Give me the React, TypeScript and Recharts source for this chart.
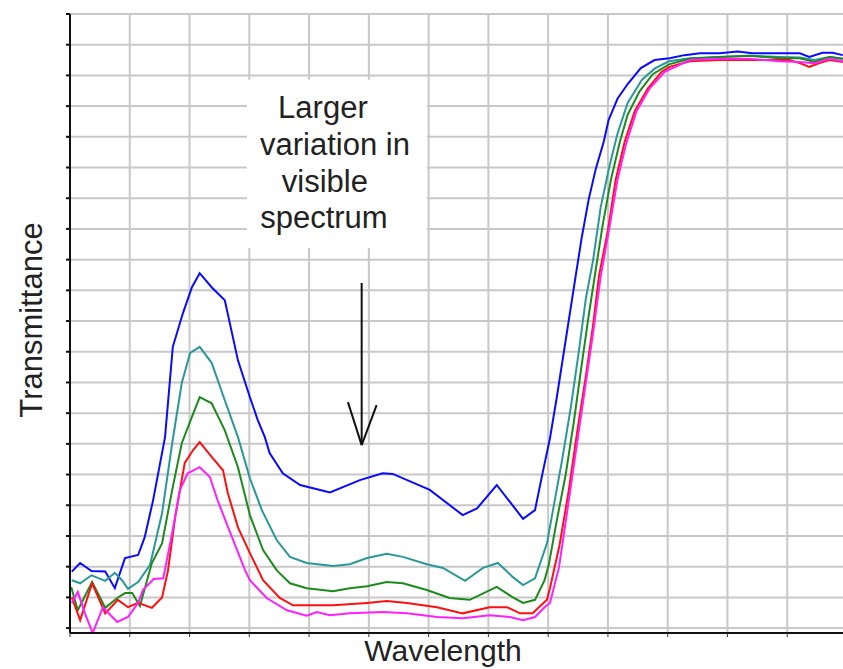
import React from 'react';
import {
  LineChart,
  Line,
  XAxis,
  YAxis,
  CartesianGrid,
  ReferenceArea,
  ReferenceLine,
} from 'recharts';

// [wavelength index, transmittance]
const blueCurve: [number, number][] = [
  [0.3, 9.2], [1.7, 10.6], [3.6, 9.3], [5.9, 9.2], [7.5, 6.5], [9.2, 11.4], [11.4, 11.9],
  [12.5, 14.8], [13.9, 20.8], [15.9, 31.1], [17.2, 45.8], [18.9, 51.3], [20.4, 55.5],
  [21.7, 57.8], [23.7, 55.5], [25.9, 53.4], [28.1, 43.6], [30.1, 37.6], [31.4, 33.9],
  [32.6, 31.1], [33.4, 28.5], [35.6, 25.2], [38.5, 23.3], [43.5, 22.1], [48.5, 24.1],
  [52.3, 25.2], [54.0, 25.1], [60.2, 22.5], [65.7, 18.4], [68.1, 19.5], [71.4, 23.3],
  [75.8, 17.8], [77.8, 19.2], [79.1, 25.4], [80.3, 30.9], [81.4, 37.3], [82.6, 44.8],
  [83.8, 52.3], [84.6, 57.3], [85.6, 63.5], [86.8, 69.9], [88.0, 74.9], [89.3, 79.2],
  [90.1, 82.7], [91.6, 86.2], [93.3, 88.6], [95.5, 91.2], [97.8, 92.5], [100.3, 92.8],
  [102.8, 93.3], [105.4, 93.6], [108.7, 93.6], [111.7, 93.9], [114.2, 93.6], [117.1, 93.6],
  [122.1, 93.6], [123.7, 93.0], [125.9, 93.7], [127.6, 93.7], [129.3, 93.3],
];

const tealCurve: [number, number][] = [
  [0.3, 7.8], [1.7, 7.3], [3.6, 8.6], [5.9, 7.7], [7.5, 9.0], [8.7, 7.8], [9.7, 6.4],
  [11.4, 7.5], [13.4, 10.3], [15.4, 18.7], [17.1, 30.1], [18.7, 39.9], [20.1, 44.8],
  [21.7, 45.8], [23.7, 43.2], [25.9, 37.1], [28.1, 31.1], [30.1, 24.4], [32.1, 19.2],
  [34.6, 14.3], [36.8, 11.6], [39.6, 10.6], [44.0, 10.1], [46.8, 10.4], [49.7, 11.4],
  [53.0, 12.1], [55.7, 11.6], [59.7, 10.4], [62.4, 9.8], [66.1, 7.7], [69.1, 9.8],
  [71.6, 10.6], [74.1, 8.3], [75.8, 7.0], [77.8, 8.1], [79.8, 13.8], [80.9, 19.7],
  [82.3, 27.2], [83.8, 36.0], [85.1, 44.8], [86.3, 53.6], [87.5, 59.8], [88.8, 68.6],
  [90.3, 75.4], [91.6, 80.5], [93.3, 85.5], [95.7, 89.3], [97.8, 91.1], [100.2, 92.3],
  [103.7, 92.8], [108.7, 93.0], [113.7, 93.2], [118.7, 93.0], [122.1, 92.9], [124.6, 92.5],
  [127.1, 93.0], [129.3, 92.7],
];

const greenCurve: [number, number][] = [
  [0.2, 6.7], [1.3, 2.9], [3.7, 7.5], [5.9, 3.3], [7.9, 4.9], [9.2, 5.7], [10.4, 5.7],
  [11.7, 3.6], [13.7, 10.6], [15.4, 13.8], [17.1, 22.5], [18.7, 30.1], [20.4, 34.4],
  [21.7, 37.6], [23.7, 36.6], [25.9, 32.2], [28.1, 26.2], [30.1, 18.4], [32.3, 12.7],
  [34.6, 9.4], [36.8, 7.3], [39.6, 6.5], [44.0, 6.0], [46.8, 6.5], [49.7, 6.8], [53.0, 7.5],
  [55.7, 7.3], [59.7, 6.2], [63.5, 4.9], [66.9, 4.6], [71.4, 6.7], [74.1, 5.0], [75.8, 4.1],
  [77.8, 4.6], [79.4, 7.8], [80.1, 10.3], [81.4, 17.3], [82.9, 24.8], [84.3, 33.6],
  [85.6, 42.8], [86.8, 51.0], [88.0, 58.6], [89.1, 65.5], [90.5, 73.0], [92.0, 79.2],
  [93.3, 83.6], [95.3, 87.4], [97.5, 90.2], [100.2, 91.8], [103.7, 92.7], [108.7, 93.0],
  [113.7, 93.2], [118.7, 92.8], [122.1, 92.8], [124.6, 92.2], [127.1, 93.0], [129.3, 92.7],
];

const redCurve: [number, number][] = [
  [0.3, 5.0], [1.7, 1.3], [3.7, 7.3], [5.9, 2.4], [8.0, 4.6], [9.7, 3.4], [11.4, 4.1],
  [13.7, 3.3], [15.4, 5.0], [16.4, 9.4], [17.6, 18.1], [19.2, 26.9], [20.6, 29.0],
  [21.7, 30.3], [23.7, 27.9], [25.6, 25.7], [26.4, 22.0], [28.1, 16.4], [30.1, 12.2],
  [32.3, 7.8], [35.1, 4.9], [37.3, 3.7], [44.0, 3.7], [49.7, 4.1], [53.0, 4.4], [56.4, 4.1],
  [61.4, 3.4], [65.7, 2.4], [70.2, 3.4], [73.1, 3.4], [75.3, 2.4], [77.4, 2.4], [79.8, 4.6],
  [80.3, 6.5], [81.9, 13.5], [83.4, 22.1], [84.8, 31.6], [86.3, 41.0], [87.5, 49.2],
  [88.5, 57.3], [90.0, 64.8], [91.3, 73.0], [92.8, 79.2], [94.5, 84.2], [96.7, 87.9],
  [99.0, 90.6], [100.3, 91.4], [103.7, 92.3], [108.7, 92.5], [113.7, 92.5], [120.4, 92.5],
  [122.1, 92.0], [123.7, 91.4], [125.4, 92.0], [127.1, 92.5], [129.3, 92.2],
];

const magentaCurve: [number, number][] = [
  [0.3, 4.1], [1.3, 5.9], [2.5, 2.4], [3.8, -0.8], [5.5, 3.4], [7.9, 1.0], [9.7, 1.8],
  [11.4, 4.1], [12.2, 6.2], [14.0, 8.0], [15.6, 8.1], [17.1, 15.5], [18.4, 22.5],
  [19.7, 25.2], [21.7, 26.2], [23.4, 24.6], [24.7, 20.8], [27.1, 14.8], [29.3, 9.4],
  [30.1, 7.8], [32.9, 4.9], [36.3, 2.9], [39.6, 2.0], [41.3, 2.6], [43.5, 2.1], [46.8, 2.4],
  [52.3, 2.6], [56.4, 2.4], [61.4, 1.8], [65.7, 1.6], [70.2, 2.1], [73.6, 1.8], [75.8, 1.3],
  [77.8, 1.8], [79.4, 3.4], [80.3, 4.1], [81.8, 9.8], [83.1, 18.4], [84.6, 28.5],
  [86.0, 37.9], [87.5, 47.9], [88.8, 57.3], [90.3, 65.5], [91.6, 73.0], [93.0, 78.7],
  [94.8, 84.2], [97.0, 87.9], [99.5, 90.6], [103.7, 92.5], [108.7, 92.7], [113.7, 92.7],
  [118.7, 92.3], [122.1, 92.2], [124.6, 92.0], [127.1, 92.7], [129.3, 92.3],
];

const xTicks = [0, 10, 20, 30, 40, 50, 60, 70, 80, 90, 100, 110, 120, 130];
const yTicks = [0, 5, 10, 15, 20, 25, 30, 35, 40, 45, 50, 55, 60, 65, 70, 75, 80, 85, 90, 95, 100];
const noteLines = ['Larger', 'variation in', 'visible', 'spectrum'];

const toRows = (pts: [number, number][]) => pts.map(([x, y]) => ({ x, y }));

const series = [
  { name: 'blue', data: toRows(blueCurve), color: '#0a0aff' },
  { name: 'teal', data: toRows(tealCurve), color: '#2a9898' },
  { name: 'green', data: toRows(greenCurve), color: '#1c8a1c' },
  { name: 'red', data: toRows(redCurve), color: '#ff1010' },
  { name: 'magenta', data: toRows(magentaCurve), color: '#ff20ff' },
];

const FONT = '"Liberation Sans", Arial, sans-serif';
const TEXT = '#222222';

const EmptyTick = () => <g />;

const NoteLabel = (props: any) => {
  const vb = props.viewBox || {};
  const x0 = vb.x ?? 0;
  const y0 = vb.y ?? 0;
  const offs = [
    { dx: 76, dy: 38 },
    { dx: 88, dy: 75 },
    { dx: 78, dy: 112 },
    { dx: 77, dy: 148 },
  ];
  return (
    <g>
      {noteLines.map((t, i) => (
        <text
          key={t}
          x={x0 + offs[i].dx}
          y={y0 + offs[i].dy}
          textAnchor="middle"
          fontFamily={FONT}
          fontSize={31}
          fill={TEXT}
        >
          {t}
        </text>
      ))}
    </g>
  );
};

const YLabel = () => (
  <text
    x={42}
    y={320}
    transform="rotate(-90, 42, 320)"
    textAnchor="middle"
    fontFamily={FONT}
    fontSize={31}
    fill={TEXT}
  >
    Transmittance
  </text>
);

const XLabel = () => (
  <text x={443} y={661} textAnchor="middle" fontFamily={FONT} fontSize={30} fill={TEXT}>
    Wavelength
  </text>
);

export default function App() {
  return (
    <div
      style={{
        position: 'absolute',
        left: 0,
        top: 0,
        width: 843,
        height: 669,
        overflow: 'hidden',
        background: '#fff',
      }}
    >
      <LineChart width={860} height={669} margin={{ top: 14, right: 13, bottom: 6, left: 0 }}>
        <CartesianGrid stroke="#c8c8c8" strokeWidth={2} vertical horizontal />
        <XAxis
          type="number"
          dataKey="x"
          domain={[0, 130]}
          ticks={xTicks}
          tick={EmptyTick}
          tickSize={4}
          height={30}
          axisLine={{ stroke: '#111', strokeWidth: 2 }}
          tickLine={{ stroke: '#333', strokeWidth: 1 }}
          allowDataOverflow
          label={<XLabel />}
        />
        <YAxis
          type="number"
          dataKey="y"
          domain={[-0.8, 100]}
          ticks={yTicks}
          tick={EmptyTick}
          tickSize={4}
          width={70}
          axisLine={{ stroke: '#111', strokeWidth: 2 }}
          tickLine={{ stroke: '#111', strokeWidth: 2 }}
          allowDataOverflow
          label={<YLabel />}
        />
        <ReferenceArea
          x1={29.6}
          x2={59.7}
          y1={61.9}
          y2={89.3}
          fill="#ffffff"
          fillOpacity={1}
          stroke="none"
          label={<NoteLabel />}
        />
        <ReferenceLine
          segment={[{ x: 48.8, y: 56.2 }, { x: 48.8, y: 29.8 }]}
          stroke="#111"
          strokeWidth={2}
        />
        <ReferenceLine
          segment={[{ x: 46.5, y: 36.8 }, { x: 48.8, y: 29.8 }]}
          stroke="#111"
          strokeWidth={2}
        />
        <ReferenceLine
          segment={[{ x: 51.3, y: 36.3 }, { x: 48.8, y: 29.8 }]}
          stroke="#111"
          strokeWidth={2}
        />
        {series.map((s) => (
          <Line
            key={s.name}
            data={s.data}
            dataKey="y"
            type="linear"
            stroke={s.color}
            strokeWidth={2}
            dot={false}
            activeDot={false}
            isAnimationActive={false}
          />
        ))}
      </LineChart>
    </div>
  );
}
